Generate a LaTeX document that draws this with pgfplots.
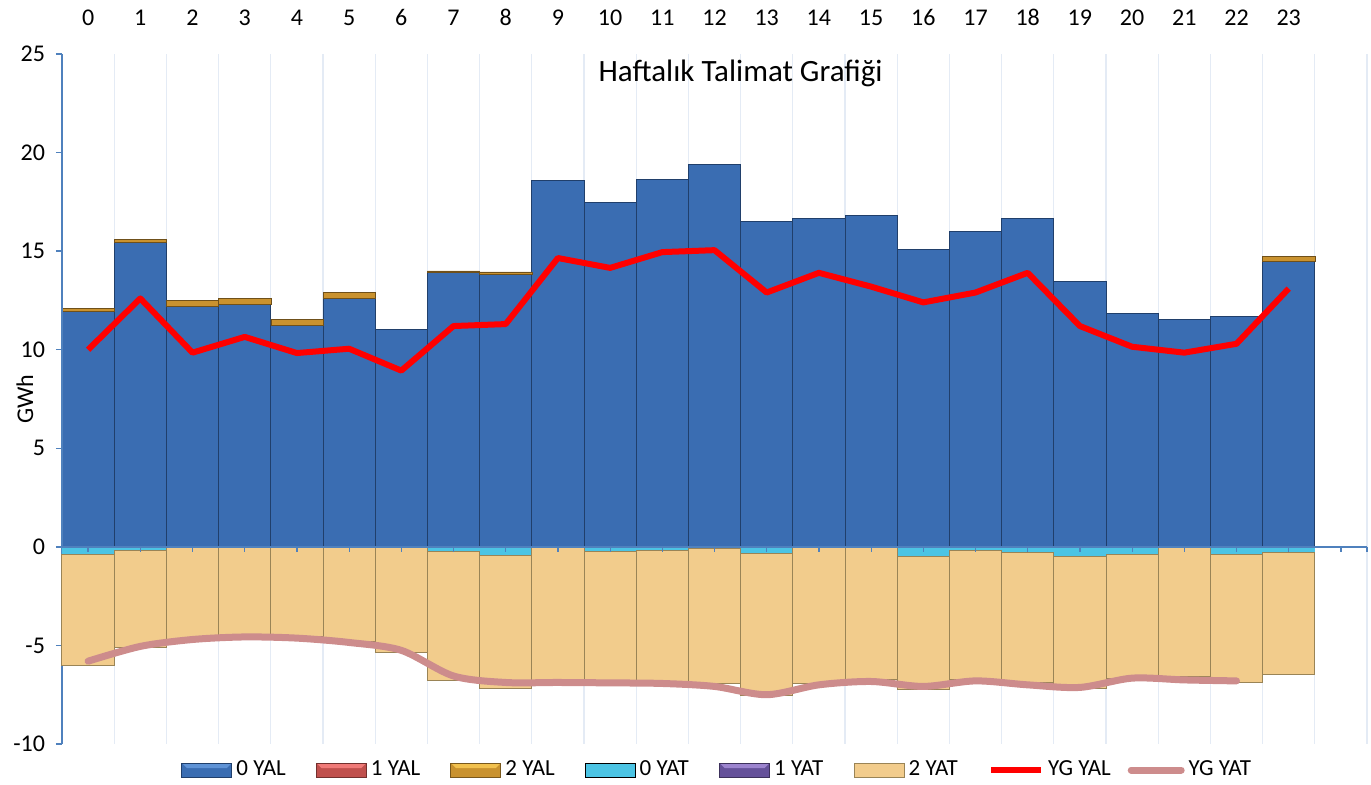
\documentclass[border=0pt]{standalone}
\usepackage{fontspec}
\setmainfont{Carlito}
\usepackage{pgfplots}
\pgfplotsset{compat=1.18}
\usepackage{pgfplotstable}

\definecolor{yal0}{HTML}{3A6DB2}
\definecolor{yal0t}{HTML}{5F93D6}
\definecolor{yal0e}{HTML}{203F6B}
\definecolor{yal1}{HTML}{C0504D}
\definecolor{yal1t}{HTML}{F07A78}
\definecolor{yal2}{HTML}{C9922F}
\definecolor{yal2t}{HTML}{F2C14E}
\definecolor{yat0}{HTML}{4CC4E4}
\definecolor{yat0t}{HTML}{8BE3F6}
\definecolor{yat1}{HTML}{65519A}
\definecolor{yat1t}{HTML}{9C84CF}
\definecolor{yat2}{HTML}{F2CC8C}
\definecolor{yat2t}{HTML}{FFF2B8}
\definecolor{yat2e}{HTML}{9A8456}
\definecolor{axblue}{HTML}{4F81BD}
\definecolor{gridc}{HTML}{E4EBF5}
\definecolor{ygyat}{HTML}{CD8C8C}

\tikzset{
  bevel/.style 2 args={path picture={
    \fill[#1, draw=none, path picture={}] (path picture bounding box.north west) -- (path picture bounding box.north east)
      -- ([xshift=-#2,yshift=-#2]path picture bounding box.north east)
      -- ([xshift=#2,yshift=-#2]path picture bounding box.north west) -- cycle;}},
}

\pgfplotstableread{
x  a      c     d      f      g      h
0  11.95  0.15  -0.40  -5.60  10.00  -5.80
1  15.45  0.15  -0.20  -4.90  12.60  -5.05
2  12.20  0.30  -0.05  -4.67   9.85  -4.70
3  12.30  0.30  -0.05  -4.50  10.65  -4.57
4  11.25  0.30  -0.05  -4.50   9.83  -4.63
5  12.60  0.30  -0.05  -4.75  10.05  -4.85
6  11.05  0.00  -0.05  -5.30   8.94  -5.25
7  13.95  0.05  -0.25  -6.55  11.20  -6.55
8  13.80  0.15  -0.42  -6.75  11.30  -6.88
9  18.60  0.00  -0.05  -6.80  14.65  -6.88
10 17.45  0.00  -0.25  -6.63  14.15  -6.90
11 18.65  0.00  -0.20  -6.68  14.95  -6.93
12 19.40  0.00  -0.08  -6.85  15.05  -7.08
13 16.50  0.00  -0.34  -7.20  12.90  -7.50
14 16.65  0.00  -0.05  -6.87  13.90  -7.00
15 16.80  0.00  -0.05  -6.70  13.20  -6.83
16 15.10  0.00  -0.50  -6.76  12.40  -7.08
17 16.00  0.00  -0.17  -6.58  12.90  -6.80
18 16.65  0.00  -0.30  -6.58  13.90  -7.00
19 13.45  0.00  -0.47  -6.70  11.20  -7.13
20 11.85  0.00  -0.39  -6.31  10.15  -6.66
21 11.55  0.00  -0.05  -6.53   9.85  -6.75
22 11.70  0.00  -0.37  -6.49  10.30  -6.80
23 14.50  0.25  -0.27  -6.22  13.10  nan
}\data

\pgfplotsset{
  common/.style={
    at={(0,0)}, anchor=south west,
    scale only axis, width=652.5pt, height=345pt,
    xmin=-0.5, xmax=24.5, ymin=-10, ymax=25,
    ybar stacked, bar width=1,
    reverse stacked plots=false,
    clip=false,
  },
  barleg/.style={legend image code/.code={\draw[##1] (0pt,-3.5pt) rectangle (25pt,3.5pt);}},
  lineleg/.style={legend image code/.code={\draw[##1] (0pt,0pt) -- (25pt,0pt);}},
}

\begin{document}
\begin{tikzpicture}
\path[use as bounding box] (-31pt,-20.5pt) rectangle (654.5pt,372pt);
% positive stack, with the category grid
\begin{axis}[
  common,
  hide axis,
]
\pgfplotsinvokeforeach{-0.5,0.5,...,24.5}{\draw[gridc, line width=0.6pt] (axis cs:#1,-10) -- (axis cs:#1,25);}
\addplot[fill=yal0, draw=yal0e, line width=0.5pt] table[x=x,y=a]{\data};
\addplot[fill=yal2, draw=yal2!55!black, line width=0.3pt] table[x=x,y=c]{\data};
\end{axis}
% negative stack, lines, axes and legend
\begin{axis}[
  common,
  xtick={0,...,23},
  ytick={-10,-5,...,25},
  axis x line*=top,
  axis y line*=left,
  x axis line style={draw=none},
  y axis line style={color=axblue, line width=0.7pt, -},
  major x tick style={draw=none},
  major y tick style={color=axblue, line width=0.7pt},
  tick align=outside,
  major tick length=3pt,
  /pgf/number format/assume math mode=true,
  tick label style={font=\fontsize{12}{14}\selectfont},
  xticklabel style={yshift=7.5pt},
  yticklabel style={xshift=-2pt},
  ylabel={GWh},
  ylabel style={font=\fontsize{12}{14}\selectfont, at={(axis description cs:0,0.5)}, anchor=center, yshift=18.5pt},
  legend columns=8,
  legend style={at={(axis description cs:0.0912,-0.0377)}, anchor=west, draw=none, fill=none,
    inner xsep=0pt, inner ysep=0pt, font=\fontsize{11.5}{13}\selectfont,
    /tikz/every odd column/.append style={column sep=0pt},
    /tikz/every even column/.append style={column sep=0pt}},
]
\addlegendimage{barleg, fill=yal0, draw=yal0e, line width=0.5pt, bevel={yal0t}{2.5pt}}
\addlegendentry{\makebox[37.75pt][l]{0 YAL}}
\addlegendimage{barleg, fill=yal1, draw=yal1!60!black, line width=0.5pt, bevel={yal1t}{2.5pt}}
\addlegendentry{\makebox[37.75pt][l]{1 YAL}}
\addlegendimage{barleg, fill=yal2, draw=yal2!60!black, line width=0.5pt, bevel={yal2t}{2.5pt}}
\addlegendentry{\makebox[37.75pt][l]{2 YAL}}
\addplot[fill=yat0, draw=none, barleg] table[x=x,y=d]{\data};
\addlegendentry{\makebox[37.75pt][l]{0 YAT}}
\addlegendimage{barleg, fill=yat1, draw=yat1!60!black, line width=0.5pt, bevel={yat1t}{2.5pt}}
\addlegendentry{\makebox[37.75pt][l]{1 YAT}}
\addplot[fill=yat2, draw=yat2e, line width=0.5pt, barleg] table[x=x,y=f]{\data};
\addlegendentry{\makebox[37.75pt][l]{2 YAT}}
\addplot[stack plots=false, sharp plot, color=red, line width=3pt, line join=round, lineleg] table[x=x,y=g]{\data};
\addlegendentry{\makebox[37.75pt][l]{YG YAL}}
\addplot[stack plots=false, smooth, color=ygyat, line width=3.5pt, line cap=round, line join=round, unbounded coords=jump, lineleg] table[x=x,y=h]{\data};
\addlegendentry{YG YAT}
\draw[axblue, line width=0.7pt] (axis cs:-0.5,0) -- (axis cs:24.5,0);
\pgfplotsinvokeforeach{0,1,2,3,4,5,6,7,8,9,10,11,12,13,14,15,16,17,18,19,20,21,22,23,24,24.5}{\draw[axblue, line width=0.6pt] (axis cs:#1,0) -- ([yshift=-2.5pt]axis cs:#1,0);}
\node[font=\fontsize{15.5}{18}\selectfont] at (rel axis cs:0.52,0.9725) {Haftalık Talimat Grafiği};
\end{axis}
\end{tikzpicture}
\end{document}
